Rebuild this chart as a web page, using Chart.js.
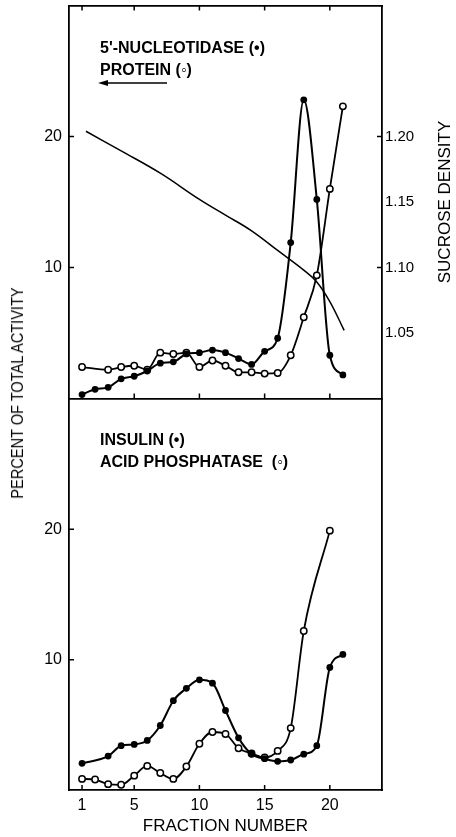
<!DOCTYPE html>
<html>
<head>
<meta charset="utf-8">
<script src="https://cdn.jsdelivr.net/npm/chart.js@4/dist/chart.umd.min.js"></script>
<style>
  html, body { margin: 0; padding: 0; background: #fff; }
  #wrap { position: relative; width: 456px; height: 837px; overflow: hidden; font-family: "Liberation Sans", Arial, sans-serif; color: #000; }
  canvas { position: absolute; left: 0; }
  .lbl { position: absolute; font-size: 16px; line-height: 16px; font-weight: bold; white-space: pre; color: #000; }
  .vt { position: absolute; width: 240px; text-align: center; line-height: 18px; white-space: pre; transform-origin: 50% 50%; color: #000; }
</style>
</head>
<body>
<div id="wrap">
  <canvas id="bot" width="456" height="447" style="top:390px;width:456px;height:447px"></canvas>
  <canvas id="top" width="456" height="404" style="top:0;width:456px;height:404px"></canvas>
  <div class="lbl" style="left:100px;top:40px">5'-NUCLEOTIDASE (•)</div>
  <div class="lbl" style="left:100px;top:62px">PROTEIN (◦)</div>
  <svg style="position:absolute;left:96px;top:78px" width="76" height="10">
    <line x1="8" y1="5" x2="71" y2="5" stroke="#000" stroke-width="1.6"/>
    <polygon points="2,5 12,2 12,8" fill="#000"/>
  </svg>
  <div class="lbl" style="left:100px;top:432px">INSULIN (•)</div>
  <div class="lbl" style="left:100px;top:454px">ACID PHOSPHATASE  (◦)</div>
  <div class="vt" style="left:-102px;top:384px;font-size:16px;transform:rotate(-90deg) scaleX(0.91)">PERCENT OF TOTAL ACTIVITY</div>
  <div class="vt" style="left:325px;top:193px;font-size:17px;transform:rotate(-90deg)">SUCROSE DENSITY</div>
</div>
<script>
// ---- data ----
const fractions = [1,2,3,4,5,6,7,8,9,10,11,12,13,14,15,16,17,18,19,20,21];
const nucleotidase = [0.3,0.7,0.85,1.5,1.7,2.1,2.7,2.8,3.4,3.5,3.7,3.5,3.05,2.6,3.6,4.6,11.9,22.8,15.2,3.3,1.8];
const protein = [2.4,null,2.2,2.4,2.5,2.2,3.5,3.4,3.5,2.4,2.9,2.5,2.0,2.0,1.9,1.95,3.3,6.2,9.4,16.0,22.3];
const insulin = [2.05,null,2.6,3.4,3.5,3.8,4.95,6.85,7.8,8.45,8.2,6.1,4.0,2.75,2.4,2.2,2.3,2.75,3.4,9.4,10.4];
const acidPhosphatase = [0.85,0.8,0.45,0.4,1.1,1.85,1.3,0.85,1.8,3.55,4.45,4.3,3.2,2.8,2.5,3.0,4.75,12.2,null,19.9,null];
const densityFraction = [1.3,4,7,10,12,14,16,18,19,20,21.1];
const sucroseDensity = [1.204,1.189,1.172,1.152,1.140,1.128,1.113,1.098,1.089,1.074,1.052];
const xTicks = [1,5,10,15,20];
const xInnerTicks = [5,10,15,20];
const yTicks = [10,20];
const densityTicks = [1.05,1.10,1.15,1.20];
const densityMarks = [1.10,1.20];

const FONT = "'Liberation Sans', Arial, sans-serif";
const pts = (xs, ys) => xs.map((x,i) => ({x, y: ys[i]}));
const filled = (data, axis) => ({ data, yAxisID: axis||'y', borderColor:'#000', backgroundColor:'#000', borderWidth:2,
  pointRadius:3.4, pointBorderWidth:0, pointBackgroundColor:'#000', cubicInterpolationMode:'monotone', spanGaps:true });
const open = (data) => ({ data, yAxisID:'y', borderColor:'#000', backgroundColor:'#fff', borderWidth:1.8,
  pointRadius:3.2, pointBorderWidth:1.5, pointBackgroundColor:'#fff', pointBorderColor:'#000', cubicInterpolationMode:'monotone', spanGaps:true });
const setTicks = arr => (s => { s.ticks = arr.map(v => ({value:v})); });
const noPad = s => { s.paddingTop = 0; s.paddingBottom = 0; s.paddingLeft = 0; s.paddingRight = 0; };
const fixW = w => (s => { s.width = w; noPad(s); });
const fixH = h => (s => { s.height = h; noPad(s); });

// inward tick marks drawn through the scales
function tickPlugin(spec) {
  return { id:'inTicks', afterDraw(chart) {
    const c = chart.ctx, a = chart.chartArea, L = 5;
    c.save(); c.strokeStyle = '#000'; c.lineWidth = 1.5; c.beginPath();
    (spec.top||[]).forEach(v => { const p = chart.scales.x.getPixelForValue(v); c.moveTo(p,a.top); c.lineTo(p,a.top+L); });
    (spec.bottom||[]).forEach(v => { const p = chart.scales.x.getPixelForValue(v); c.moveTo(p,a.bottom); c.lineTo(p,a.bottom-L); });
    (spec.left||[]).forEach(v => { const p = chart.scales.y.getPixelForValue(v); c.moveTo(a.left,p); c.lineTo(a.left+L,p); });
    (spec.right||[]).forEach(v => { const p = chart.scales[spec.rightAxis].getPixelForValue(v); c.moveTo(a.right,p); c.lineTo(a.right-L,p); });
    c.stroke(); c.restore();
  }};
}
const border = { display:true, color:'#000', width:1.8 };

new Chart(document.getElementById('top'), {
  type:'line',
  data:{ datasets:[
    filled(pts(fractions, nucleotidase)),
    open(pts(fractions, protein)),
    { data: pts(densityFraction, sucroseDensity), yAxisID:'y1', borderColor:'#000', borderWidth:1.5, pointRadius:0, tension:0.4, fill:false }
  ]},
  options:{
    responsive:false, animation:false, events:[],
    layout:{ padding:0 },
    plugins:{ legend:{display:false}, tooltip:{enabled:false} },
    scales:{
      x:{ type:'linear', min:0, max:24, position:'bottom', grid:{display:false}, border, ticks:{display:false}, afterFit:fixH(1) },
      x2:{ type:'linear', min:0, max:24, position:'top', grid:{display:false}, border, ticks:{display:false}, afterFit:fixH(5) },
      y:{ min:0, max:30, position:'left', grid:{display:false, drawTicks:false}, border,
          ticks:{ padding:7, color:'#000', font:{size:16, family:FONT} }, afterBuildTicks:setTicks(yTicks), afterFit:fixW(69) },
      y1:{ min:1.0, max:1.3, position:'right', grid:{display:false, drawTicks:false}, border,
          ticks:{ padding:3, color:'#000', font:{size:15, family:FONT}, callback:v => Number(v).toFixed(2) },
          afterBuildTicks:setTicks(densityTicks), afterFit:fixW(74) }
    }
  },
  plugins:[ tickPlugin({ top:xTicks, bottom:xInnerTicks, left:yTicks, right:densityMarks, rightAxis:'y1' }) ]
});

new Chart(document.getElementById('bot'), {
  type:'line',
  data:{ datasets:[
    filled(pts(fractions, insulin)),
    open(pts(fractions, acidPhosphatase))
  ]},
  options:{
    responsive:false, animation:false, events:[],
    layout:{ padding:{ top:9, left:0, right:0, bottom:0 } },
    plugins:{ legend:{display:false}, tooltip:{enabled:false} },
    scales:{
      x:{ type:'linear', min:0, max:24, position:'bottom', grid:{display:false, drawTicks:false}, border,
          ticks:{ padding:6, color:'#000', font:{size:16, family:FONT}, maxRotation:0 },
          afterBuildTicks:setTicks(xTicks), afterFit:fixH(47),
          title:{ display:true, text:'FRACTION NUMBER', color:'#000', font:{size:17, family:FONT}, padding:{top:0,bottom:0} } },
      y:{ min:0, max:30, position:'left', grid:{display:false, drawTicks:false}, border,
          ticks:{ padding:7, color:'#000', font:{size:16, family:FONT} }, afterBuildTicks:setTicks(yTicks), afterFit:fixW(69) },
      yr:{ min:0, max:30, position:'right', grid:{display:false, drawTicks:false}, border,
          ticks:{ display:false }, afterFit:fixW(74) }
    }
  },
  plugins:[ tickPlugin({ bottom:xTicks, left:yTicks }) ]
});
</script>
</body>
</html>
